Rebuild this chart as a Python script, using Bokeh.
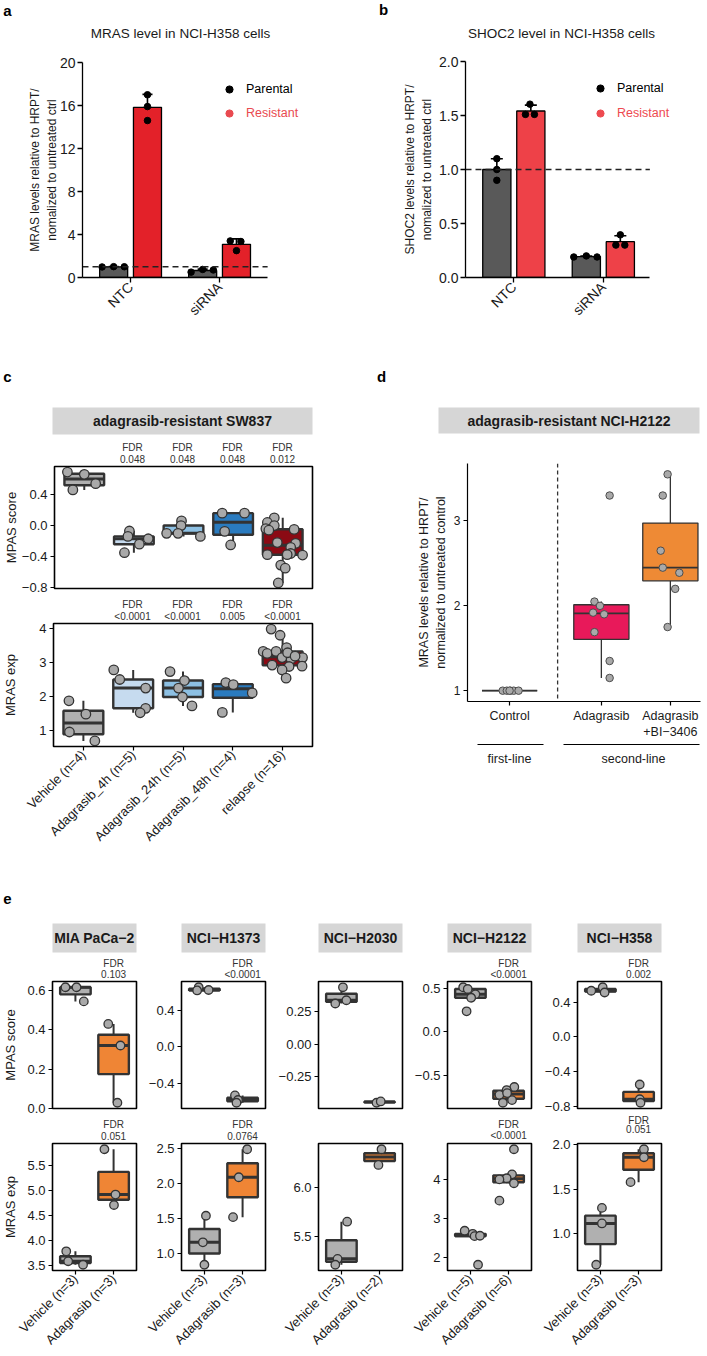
import numpy as np
from math import pi
from bokeh.plotting import figure
from bokeh.models import (ColumnDataSource, Range1d, FixedTicker, CustomJSTickFormatter, Label,
                          BoxAnnotation, Span, Whisker, TeeHead, Legend, LegendItem, Arrow)
from bokeh.layouts import column, row
from bokeh.embed import file_html
from bokeh.resources import INLINE

FONT = "Liberation Sans"
DARK = "#333333"
PT_FILL = "#a9a9a9"
STRIP = "#d6d6d6"
TXT = "#1a1a1a"

# ---------------- panel a / b data ----------------
ab_groups = ["NTC", "siRNA"]
ab_ref = 1.0
a_parental = [[0.98, 1.01, 1.00], [0.50, 0.75, 0.70]]
a_resistant = [[17.0, 15.9, 14.6], [3.40, 3.35, 2.50]]
a_yticks = [0, 4, 8, 12, 16, 20]
b_parental = [[1.10, 1.00, 0.90], [0.19, 0.20, 0.19]]
b_resistant = [[1.605, 1.51, 1.51], [0.395, 0.30, 0.30]]
b_yticks = [0.0, 0.5, 1.0, 1.5, 2.0]
# horizontal spread of dots inside each bar
a_par_dx = [[-0.13, 0.0, 0.12], [-0.13, 0.0, 0.12]]
a_res_dx = [[0.0, 0.0, 0.0], [-0.07, 0.05, 0.0]]
b_par_dx = [[0.0, 0.0, 0.0], [-0.14, 0.0, 0.12]]
b_res_dx = [[-0.01, -0.06, 0.04], [0.0, -0.05, 0.05]]

# ---------------- panel c data ----------------
c_groups = ["Vehicle (n=4)", "Adagrasib_4h (n=5)", "Adagrasib_24h (n=5)",
            "Adagrasib_48h (n=4)", "relapse (n=16)"]
c_fills = ["#b0b0b0", "#c6dbef", "#8dc0e3", "#2a7bbf", "#8b0a14"]
c_fdr_mpas = ["", "0.048", "0.048", "0.048", "0.012"]
c_fdr_mras = ["", "<0.0001", "<0.0001", "0.005", "<0.0001"]
c_mpas = [
    [0.69, 0.66, 0.54, 0.46],
    [-0.07, -0.14, -0.24, -0.17, -0.35],
    [0.06, 0.0, -0.10, -0.10, -0.14],
    [0.16, 0.16, -0.075, -0.25],
    [0.10, 0.04, 0.0, -0.04, -0.05, -0.06, -0.22, -0.23, -0.28, -0.36, -0.375, -0.375,
     -0.38, -0.51, -0.55, -0.74],
]
c_mpas_dx = [
    [-0.34, 0.0, 0.23, -0.23],
    [-0.09, -0.12, 0.11, 0.29, -0.19],
    [-0.04, -0.05, -0.34, -0.11, 0.34],
    [-0.22, 0.23, -0.17, -0.05],
    [-0.17, -0.31, -0.17, -0.34, 0.23, -0.28, -0.11, 0.26, 0.16, 0.16, -0.31, 0.09,
     0.40, -0.04, 0.05, -0.09],
]
c_mras = [
    [1.88, 1.49, 0.97, 0.71],
    [2.78, 2.50, 2.25, 1.66, 1.53],
    [2.73, 2.47, 2.25, 1.99, 1.73],
    [2.41, 2.35, 2.11, 1.54],
    [3.97, 3.79, 3.43, 3.32, 3.26, 3.32, 3.14, 3.10, 3.14, 2.92, 2.88, 2.89, 2.78, 2.54,
     3.28, 3.18],
]
c_mras_dx = [
    [-0.29, 0.05, -0.28, 0.23],
    [-0.39, -0.27, 0.25, 0.25, 0.14],
    [-0.26, 0.03, -0.09, -0.01, 0.18],
    [-0.14, 0.01, 0.39, -0.21],
    [-0.23, -0.05, 0.08, -0.39, -0.31, -0.13, -0.01, 0.17, 0.40, -0.21, 0.13, 0.39,
     -0.01, 0.07, 0.10, 0.25],
]
c_mpas_ticks = [-0.8, -0.4, 0.0, 0.4]
c_mras_ticks = [1, 2, 3, 4]

# ---------------- panel d data ----------------
d_groups = ["Control", "Adagrasib", "Adagrasib\n+BI\u22123406"]
d_pos = [1.0, 2.33, 3.33]
d_split = 1.696
d_fills = ["#a6a6a6", "#e8195a", "#ee8a35"]
d_vals = [
    [1.0, 1.0, 1.0, 1.0, 1.0, 1.0],
    [3.30, 2.05, 2.00, 1.92, 1.90, 1.69, 1.35, 1.15],
    [3.55, 3.30, 2.65, 2.45, 2.39, 2.20, 1.75],
]
d_dx = [
    [-0.10, -0.04, 0.01, 0.06, 0.13, 0.0],
    [0.12, -0.10, -0.02, -0.12, 0.04, -0.10, 0.12, 0.12],
    [-0.04, -0.11, -0.14, -0.11, 0.13, 0.07, -0.04],
]
d_yticks = [1, 2, 3]

# ---------------- panel e data ----------------
e_lines = ["MIA PaCa\u22122", "NCI\u2212H1373", "NCI\u2212H2030", "NCI\u2212H2122", "NCI\u2212H358"]
e_xlabels = [["Vehicle (n=3)", "Adagrasib (n=3)"], ["Vehicle (n=3)", "Adagrasib (n=3)"],
             ["Vehicle (n=3)", "Adagrasib (n=2)"], ["Vehicle (n=5)", "Adagrasib (n=6)"],
             ["Vehicle (n=3)", "Adagrasib (n=3)"]]
e_fills = ["#b0b0b0", "#ef8535"]
e_fdr_mpas = ["0.103", "<0.0001", "", "<0.0001", "0.002"]
e_fdr_mras = ["0.051", "0.0764", "", "<0.0001", "0.051"]
e_mpas_veh = [[0.617, 0.617, 0.545], [0.655, 0.625, 0.62], [0.44, 0.315, 0.34],
              [0.51, 0.49, 0.43, 0.39, 0.235], [0.53, 0.57, 0.51]]
e_mpas_ada = [[0.43, 0.32, 0.028], [-0.535, -0.585, -0.615], [-0.45, -0.44],
              [-0.63, -0.665, -0.72, -0.78, -0.81, -0.70], [-0.55, -0.72, -0.76]]
e_mras_veh = [[3.78, 3.58, 3.51], [1.54, 1.16, 0.84], [5.65, 5.27, 5.21],
              [2.68, 2.60, 2.54, 2.55, 1.80], [1.29, 1.115, 0.65]]
e_mras_ada = [[5.83, 4.92, 4.71], [2.49, 2.09, 1.52], [6.39, 6.23],
              [4.79, 4.14, 4.04, 4.01, 3.91, 3.46], [1.95, 1.86, 1.58]]
e_mpas_veh_dx = [[-0.26, 0.03, 0.22], [-0.15, 0.11, -0.19], [0.04, -0.16, 0.13],
                 [-0.19, -0.07, 0.13, 0.02, -0.10], [-0.24, 0.06, 0.11]]
e_mpas_ada_dx = [[-0.14, 0.18, 0.10], [-0.20, -0.12, -0.16], [-0.08, 0.03],
                 [0.15, -0.05, -0.24, 0.09, -0.15, -0.04], [0.03, 0.03, 0.05]]
e_mras_veh_dx = [[-0.24, -0.19, 0.20], [0.04, -0.04, 0.0], [0.15, -0.10, -0.16],
                 [-0.15, 0.06, 0.11, 0.25, 0.20], [0.04, 0.04, -0.11]]
e_mras_ada_dx = [[-0.24, 0.05, 0.01], [0.12, -0.10, -0.25], [0.05, -0.03],
                 [0.14, 0.09, -0.05, -0.24, 0.14, -0.24], [0.14, 0.14, -0.21]]
e_mpas_ticks = [[0.0, 0.2, 0.4, 0.6], [-0.4, 0.0, 0.4], [-0.25, 0.0, 0.25],
                [-0.5, 0.0, 0.5], [-0.8, -0.4, 0.0, 0.4]]
e_mpas_dec = [1, 1, 2, 1, 1]
e_mras_ticks = [[3.5, 4.0, 4.5, 5.0, 5.5], [1.0, 1.5, 2.0, 2.5], [5.5, 6.0],
                [2, 3, 4], [1.0, 1.5, 2.0]]
e_mras_dec = [1, 1, 1, 0, 1]


# ---------------- helpers ----------------
def num_fmt(dec):
    return CustomJSTickFormatter(code="return tick.toFixed(%d).replace('-', '\u2212');" % dec)


def cat_fmt(pos, labels):
    return CustomJSTickFormatter(
        args=dict(pos=[float(v) for v in pos], labels=list(labels)),
        code="for (let i = 0; i < pos.length; i++) { if (Math.abs(pos[i] - tick) < 1e-6) return labels[i]; } return '';")


def style_axis(ax, size, tick_out=4, standoff=3, line=True, lw=1.2):
    ax.major_label_text_font = FONT
    ax.major_label_text_font_size = size
    ax.major_label_text_color = TXT
    ax.major_tick_out = tick_out
    ax.major_tick_in = 0
    ax.minor_tick_line_color = None
    ax.major_tick_line_color = "black"
    ax.major_tick_line_width = lw
    ax.major_label_standoff = standoff
    ax.axis_line_color = "black" if line else None
    ax.axis_line_width = lw


def set_ylabel(ax, text, size, standoff):
    ax.axis_label = text
    ax.axis_label_text_font = FONT
    ax.axis_label_text_font_size = size
    ax.axis_label_text_font_style = "normal"
    ax.axis_label_text_color = TXT
    ax.axis_label_standoff = standoff


class Band:
    """A text-only strip of the page (page pixels as data units, y downwards)."""

    def __init__(self, x0, y0, W, H):
        self.x0, self.y0 = x0, y0
        self.fig = figure(width=W, height=H, x_range=Range1d(0, W), y_range=Range1d(H, 0),
                          output_backend="svg", toolbar_location=None, title=None,
                          x_axis_location=None, y_axis_location=None, frame_align=False,
                          min_border_left=0, min_border_right=0,
                          min_border_top=0, min_border_bottom=0)
        self.fig.outline_line_color = None
        self.fig.grid.visible = False
        self.fig.border_fill_color = "white"

    def text(self, px, py, text, size="10px", bold=False, color=TXT, align="center"):
        self.fig.add_layout(Label(x=px - self.x0, y=py - self.y0, text=text, text_font=FONT,
                                  text_font_size=size,
                                  text_font_style=("bold" if bold else "normal"),
                                  text_color=color, text_align=align, text_baseline="middle"))

    def rect(self, px0, px1, py0, py1, color):
        self.fig.add_layout(BoxAnnotation(left=px0 - self.x0, right=px1 - self.x0,
                                          top=py0 - self.y0, bottom=py1 - self.y0,
                                          fill_color=color, fill_alpha=1.0, line_color=None))

    def hline(self, px0, px1, py, width=1.0, color="black"):
        self.fig.add_layout(Arrow(end=None, x_start=px0 - self.x0, y_start=py - self.y0,
                                  x_end=px1 - self.x0, y_end=py - self.y0,
                                  line_width=width, line_color=color))


def new_fig(W, H, ml, mr, mt, mb, xr, yr, xloc="below"):
    p = figure(width=W, height=H, x_range=Range1d(*xr), y_range=Range1d(*yr),
               output_backend="svg", toolbar_location=None, title=None,
               x_axis_location=xloc, frame_align=False,
               min_border_left=ml, min_border_right=mr, min_border_top=mt, min_border_bottom=mb)
    p.grid.visible = False
    p.background_fill_color = "white"
    p.border_fill_color = "white"
    return p


def box_stats(v):
    v = np.asarray(v, float)
    q1, med, q3 = np.percentile(v, [25, 50, 75])
    iqr = q3 - q1
    lo = v[v >= q1 - 1.5 * iqr].min()
    hi = v[v <= q3 + 1.5 * iqr].max()
    return float(q1), float(med), float(q3), float(lo), float(hi)


def draw_boxes(p, xs, vals, dxs, fills, width=0.8, box_lw=2.4, med_lw=3.0, wh_lw=2.0,
               pt_size=9, pt_lw=1.3, pt_line=DARK):
    st = [box_stats(v) for v in vals]
    src = ColumnDataSource(dict(
        x=[float(x) for x in xs],
        left=[float(x) - width / 2 for x in xs], right=[float(x) + width / 2 for x in xs],
        q1=[s[0] for s in st], med=[s[1] for s in st], q3=[s[2] for s in st],
        lo=[s[3] for s in st], hi=[s[4] for s in st], fill=list(fills)))
    p.segment(x0="x", y0="q3", x1="x", y1="hi", source=src, line_color=DARK, line_width=wh_lw)
    p.segment(x0="x", y0="lo", x1="x", y1="q1", source=src, line_color=DARK, line_width=wh_lw)
    p.quad(left="left", right="right", bottom="q1", top="q3", source=src,
           fill_color="fill", line_color=DARK, line_width=box_lw)
    p.segment(x0="left", y0="med", x1="right", y1="med", source=src,
              line_color=DARK, line_width=med_lw)
    px, py = [], []
    for x, v, d in zip(xs, vals, dxs):
        px += [float(x) + dd for dd in d]
        py += [float(vv) for vv in v]
    p.scatter(x=px, y=py, size=pt_size, fill_color=PT_FILL, line_color=pt_line, line_width=pt_lw)


def box_panel(W, H, ml, mr, mt, mb, vals, dxs, fills, yticks, dec, xlabels=None,
              pt_size=9, tick_font="13px", xlab_font="13px", ylabel=None, ylab_standoff=0):
    n = len(vals)
    allv = np.concatenate([np.asarray(v, float) for v in vals])
    lo, hi = float(allv.min()), float(allv.max())
    pad = 0.05 * (hi - lo)
    p = new_fig(W, H, ml, mr, mt, mb, (0.4, n + 0.6), (lo - pad, hi + pad),
                xloc=("below" if xlabels else None))
    p.outline_line_color = "black"
    p.outline_line_width = 1.6
    xs = np.arange(1, n + 1, dtype=float)
    draw_boxes(p, xs, vals, dxs, fills, pt_size=pt_size)
    ya = p.yaxis[0]
    style_axis(ya, tick_font, tick_out=4, standoff=3, line=False)
    ya.ticker = FixedTicker(ticks=list(yticks))
    ya.formatter = num_fmt(dec)
    if ylabel:
        set_ylabel(ya, ylabel, "13px", ylab_standoff)
    if xlabels:
        xa = p.xaxis[0]
        style_axis(xa, xlab_font, tick_out=4, standoff=2, line=False)
        xa.ticker = FixedTicker(ticks=list(xs))
        xa.formatter = cat_fmt(xs, xlabels)
        xa.major_label_orientation = pi / 4
    return p


def bar_panel(W, H, ml, mr, mt, mb, xr, bounds, par, res, par_dx, res_dx, yticks, dec, red,
              legred, ylab, ylab_standoff, leg1, leg2, cap):
    p = new_fig(W, H, ml, mr, mt, mb, xr, (0, yticks[-1]))
    p.outline_line_color = None
    xs = np.arange(1, len(par) + 1, dtype=float)
    off, bw = 0.19, 0.315
    sets = ((par, par_dx, -off, "#595959"), (res, res_dx, off, red))
    stats = []
    for vals, dxs, sh, fill in sets:
        means = [float(np.mean(v)) for v in vals]
        sds = [float(np.std(v, ddof=1)) for v in vals]
        bx = [float(x + sh) for x in xs]
        p.vbar(x=bx, top=means, bottom=0, width=bw, fill_color=fill, line_color="black",
               line_width=1.3)
        stats.append((bx, means, sds))
    for (vals, dxs, sh, fill), (bx, means, sds) in zip(sets, stats):
        px, py = [], []
        for x, v, d in zip(bx, vals, dxs):
            px += [x + dd for dd in d]
            py += list(v)
        p.scatter(x=px, y=py, size=6.5, fill_color="black", line_color="black")
        src = ColumnDataSource(dict(base=bx, lower=[m - s for m, s in zip(means, sds)],
                                    upper=[m + s for m, s in zip(means, sds)]))
        p.add_layout(Whisker(source=src, base="base", lower="lower", upper="upper",
                             line_color="black", line_width=1.6,
                             upper_head=TeeHead(size=cap, line_color="black", line_width=1.6),
                             lower_head=TeeHead(size=cap, line_color="black", line_width=1.6)))
    # dashed reference line at the normalisation level, over the extent of the x axis
    p.segment(x0=[bounds[0]], x1=[bounds[1]], y0=[ab_ref], y1=[ab_ref], line_dash="6 4",
              line_width=1.6, line_color="#222222")
    ya, xa = p.yaxis[0], p.xaxis[0]
    style_axis(ya, "14px", tick_out=5, standoff=2, lw=1.3)
    style_axis(xa, "14px", tick_out=5, standoff=2, lw=1.3)
    ya.ticker = FixedTicker(ticks=list(yticks))
    ya.formatter = num_fmt(dec)
    xa.ticker = FixedTicker(ticks=list(xs))
    xa.formatter = cat_fmt(xs, ab_groups)
    xa.major_label_orientation = pi / 4
    xa.bounds = bounds
    set_ylabel(ya, ylab, "12px", ylab_standoff)
    # legend (two legends so each label keeps its own colour)
    for lbl, col, loc in (("Parental", "black", leg1), ("Resistant", legred, leg2)):
        proxy = p.scatter(x=np.array([np.nan]), y=np.array([np.nan]), fill_color=col,
                          line_color=col)
        p.add_layout(Legend(items=[LegendItem(label=lbl, renderers=[proxy])], location=loc,
                            padding=0, margin=0, spacing=0, glyph_width=18, glyph_height=18,
                            label_height=18, label_width=10, label_standoff=8,
                            border_line_color=None, background_fill_alpha=0,
                            label_text_font=FONT, label_text_font_size="12.5px",
                            label_text_color=col))
    return p


# ================= row 1 : panels a and b =================
head_a = Band(0, 0, 350, 54)
head_a.text(7, 10, "a", "15px", bold=True, color="black")
head_a.text(180, 33, "MRAS level in NCI-H358 cells", "13.5px")
plot_a = bar_panel(350, 296, 82, 50, 8, 73, (0.46, 0.46 + 218 / 89.0), (0.46, 2.54),
                   a_parental, a_resistant, a_par_dx, a_res_dx, a_yticks, 0,
                   "#e32129", "#e94a50",
                   "MRAS levels relative to HRPT/\nnomalized to untreated ctrl", -2,
                   (138, 179), (138, 155), 10)

head_b = Band(350, 0, 356, 54)
head_b.text(383, 9, "b", "15px", bold=True, color="black")
head_b.text(561, 33, "SHOC2 level in NCI-H358 cells", "13.5px")
plot_b = bar_panel(356, 296, 115, 36, 7, 73, (0.46, 0.46 + 205 / 89.5), (0.46, 2.52),
                   b_parental, b_resistant, b_par_dx, b_res_dx, b_yticks, 1,
                   "#ee4148", "#ee4a50",
                   "SHOC2 levels relative to HRPT/\nnomalized to untreated ctrl", 2,
                   (126, 180), (126, 155), 12)

# ================= row 2 : panels c and d =================
head_c = Band(0, 350, 350, 114)
head_c.text(7, 376, "c", "15px", bold=True, color="black")
head_c.rect(52, 312, 407, 434, STRIP)
head_c.text(182, 420.5, "adagrasib-resistant SW837", "14px", bold=True)
for i, t in enumerate(c_fdr_mpas):
    if t:
        cx = 52 + (i + 1 - 0.4) * 50
        head_c.text(cx, 447, "FDR", "10px", color=DARK)
        head_c.text(cx, 458.5, t, "10px", color=DARK)
plot_ct = box_panel(350, 132, 52, 38, 2, 8, c_mpas, c_mpas_dx, c_fills, c_mpas_ticks, 1,
                    pt_size=9.5, ylabel="MPAS score", ylab_standoff=0)

head_cb = Band(0, 596, 350, 25)
for i, t in enumerate(c_fdr_mras):
    if t:
        cx = 52 + (i + 1 - 0.4) * 50
        head_cb.text(cx, 604, "FDR", "10px", color=DARK)
        head_cb.text(cx, 615.5, t, "10px", color=DARK)
plot_cb = box_panel(350, 249, 52, 38, 2, 124, c_mras, c_mras_dx, c_fills, c_mras_ticks, 0,
                    xlabels=c_groups, pt_size=9.5, ylabel="MRAS exp", ylab_standoff=18)

head_d = Band(350, 350, 356, 108)
head_d.text(381, 376, "d", "15px", bold=True, color="black")
head_d.rect(438, 699, 407, 433, STRIP)
head_d.text(568.5, 420, "adagrasib-resistant NCI-H2122", "14px", bold=True)

d_all = np.concatenate([np.asarray(v, float) for v in d_vals])
d_pad = 0.05 * (d_all.max() - d_all.min())
plot_d = new_fig(356, 284, 117, 6, 5, 41, (0.39, 0.39 + 233 / 69.0),
                 (float(d_all.min() - d_pad), float(d_all.max() + d_pad)))
plot_d.outline_line_color = None
draw_boxes(plot_d, d_pos, d_vals, d_dx, d_fills, box_lw=1.3, med_lw=1.8, wh_lw=1.3,
           pt_size=7.5, pt_lw=1.0, pt_line="#4d4d4d")
plot_d.add_layout(Span(location=d_split, dimension="height", line_dash="4 3",
                       line_width=1.3, line_color="#333333"))
style_axis(plot_d.yaxis[0], "12px", tick_out=4, standoff=3, lw=1.2)
style_axis(plot_d.xaxis[0], "12.5px", tick_out=4, standoff=3, lw=1.2)
plot_d.yaxis[0].ticker = FixedTicker(ticks=d_yticks)
plot_d.yaxis[0].formatter = num_fmt(0)
plot_d.xaxis[0].ticker = FixedTicker(ticks=d_pos)
plot_d.xaxis[0].formatter = cat_fmt(d_pos, d_groups)
set_ylabel(plot_d.yaxis[0], "MRAS levels relative to HRPT/\nnormalized to untreated control",
           "12.5px", 3)

foot_d = Band(350, 742, 356, 128)
foot_d.hline(477, 543, 744)
foot_d.hline(563, 699, 744)
foot_d.text(509, 758, "first-line", "12.5px")
foot_d.text(633, 758, "second-line", "12.5px")

# ================= row 3 : panel e =================
e_x0 = [0, 140, 272, 405, 535]
e_W = [140, 132, 133, 130, 171]
e_ml = [52, 41, 46, 42, 42]
e_cols = []
for k in range(5):
    mr = e_W[k] - e_ml[k] - 84
    fl = e_x0[k] + e_ml[k]
    cx2 = fl + (2 - 0.4) * 84 / 2.2
    # the last column needs room above its lower frame for the top tick label
    if k == 4:
        pt_mb, hb_y0, hb_h, fdr_y, pb_mt = 6, 1114, 20, (1119.8, 1128.0), 9
    else:
        pt_mb, hb_y0, hb_h, fdr_y, pb_mt = 9, 1117, 24, (1124.0, 1135.0), 2
    ht = Band(e_x0[k], 870, e_W[k], 109)
    if k == 0:
        ht.text(7, 898, "e", "15px", bold=True, color="black")
    ht.rect(fl, fl + 84, 923, 952, STRIP)
    ht.text(fl + 42, 937.5, e_lines[k], "14px", bold=True)
    if e_fdr_mpas[k]:
        ht.text(cx2, 962.5, "FDR", "10px", color=DARK)
        ht.text(cx2, 973.5, e_fdr_mpas[k], "10px", color=DARK)
    pt = box_panel(e_W[k], 2 + 127 + pt_mb, e_ml[k], mr, 2, pt_mb,
                   [e_mpas_veh[k], e_mpas_ada[k]], [e_mpas_veh_dx[k], e_mpas_ada_dx[k]],
                   e_fills, e_mpas_ticks[k], e_mpas_dec[k], pt_size=8.5,
                   ylabel=("MPAS score" if k == 0 else None), ylab_standoff=6)
    hb = Band(e_x0[k], hb_y0, e_W[k], hb_h)
    if e_fdr_mras[k]:
        hb.text(cx2, fdr_y[0], "FDR", "10px", color=DARK)
        hb.text(cx2, fdr_y[1], e_fdr_mras[k], "10px", color=DARK)
    pb = box_panel(e_W[k], pb_mt + 127 + 86, e_ml[k], mr, pb_mt, 86,
                   [e_mras_veh[k], e_mras_ada[k]], [e_mras_veh_dx[k], e_mras_ada_dx[k]],
                   e_fills, e_mras_ticks[k], e_mras_dec[k], xlabels=e_xlabels[k],
                   pt_size=8.5, ylabel=("MRAS exp" if k == 0 else None), ylab_standoff=6)
    e_cols.append(column(ht.fig, pt, hb.fig, pb, spacing=0))

layout = column(
    row(column(head_a.fig, plot_a, spacing=0), column(head_b.fig, plot_b, spacing=0), spacing=0),
    row(column(head_c.fig, plot_ct, head_cb.fig, plot_cb, spacing=0),
        column(head_d.fig, plot_d, foot_d.fig, spacing=0), spacing=0),
    row(*e_cols, spacing=0),
    spacing=0,
)

open("out.html", "w").write(file_html(layout, INLINE))
